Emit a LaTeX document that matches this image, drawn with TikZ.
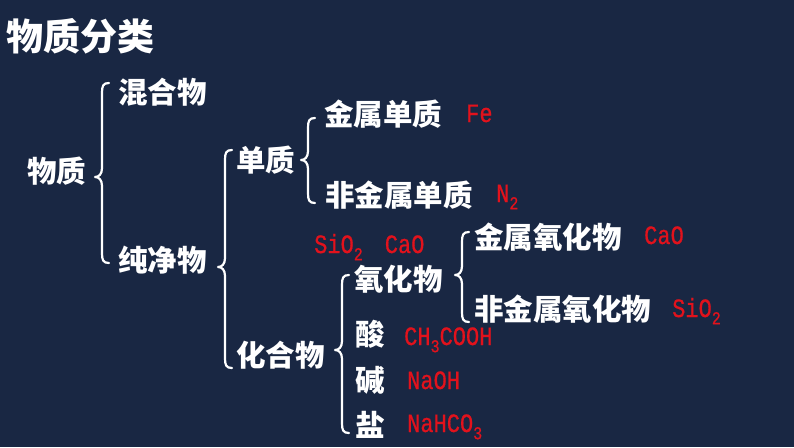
\documentclass[tikz,border=0pt]{standalone}
\usepackage{graphicx}
\usepackage{fontspec}
\newfontfamily\cjk{Noto Sans CJK SC}
\newfontfamily\formfont[FakeBold=0.8]{Liberation Mono}
\definecolor{bgnavy}{RGB}{25,39,67}
\definecolor{formred}{RGB}{226,18,28}
\newcommand{\chsub}[1]{\raisebox{-6pt}{\fontsize{15}{15}\selectfont #1}}
\newcommand{\frm}[1]{\scalebox{1}[1.2]{\formfont\fontsize{22}{22}\selectfont #1}}
\newcommand{\mybrace}[4]{%
  \draw[bracestyle] (#1+7,#2) .. controls (#1+1,#2) and (#1,#2+3) .. (#1,#2+10)
    -- (#1,#3-9) .. controls (#1,#3-3) and (#1-3,#3) .. (#1-7,#3)
    .. controls (#1-3,#3) and (#1,#3+3) .. (#1,#3+9)
    -- (#1,#4-10) .. controls (#1,#4-3) and (#1+1,#4) .. (#1+7,#4);}
\tikzset{
  bracestyle/.style={draw=white, line width=2.2pt, line cap=round, line join=round},
  zh/.style={anchor=base west, inner sep=0pt, text=white, font=\cjk\bfseries\fontsize{29.5}{30}\selectfont},
  ttl/.style={anchor=base west, inner sep=0pt, text=white, font=\cjk\bfseries\fontsize{37}{38}\selectfont},
  fm/.style={anchor=base west, inner sep=0pt, text=formred},
}
\begin{document}
\begin{tikzpicture}[x=1pt,y=-1pt]
\fill[bgnavy] (0,0) rectangle (794,447);
\useasboundingbox (0,0) rectangle (794,447);
% title
\node[ttl] (title) at (6,50) {物质分类};
% level texts
\node[zh] (wz) at (27,182) {物质};
\node[zh] (hhw) at (118,103) {混合物};
\node[zh] (cjw) at (118,271) {纯净物};
\node[zh] (dz) at (236,171) {单质};
\node[zh] (jsdz) at (324,125) {金属单质};
\node[zh] (fjsdz) at (325,206) {非金属单质};
\node[zh] (hhw2) at (236,366) {化合物};
\node[zh] (yhw) at (354,290) {氧化物};
\node[zh] (jsyhw) at (474,248) {金属氧化物};
\node[zh] (fjsyhw) at (474,320) {非金属氧化物};
\node[zh] (suan) at (355,345) {酸};
\node[zh] (jian) at (355,391) {碱};
\node[zh] (yan) at (355,436) {盐};
% formulas
\node[fm] (fe) at (466,122) {\frm{Fe}};
\node[fm] (n2) at (496,202) {\frm{N\chsub{2}}};
\node[fm] (ex) at (314,253) {\frm{SiO\chsub{2}\hspace{22pt}CaO}};
\node[fm] (cao) at (644,244) {\frm{CaO}};
\node[fm] (sio2) at (672,317) {\frm{SiO\chsub{2}}};
\node[fm] (ch3) at (404,345) {\frm{CH\chsub{3}COOH}};
\node[fm] (naoh) at (407,389) {\frm{NaOH}};
\node[fm] (nahco3) at (407,432) {\frm{NaHCO\chsub{3}}};
% braces
\mybrace{102}{83}{177}{263}
\mybrace{225}{150}{267}{368}
\mybrace{308}{118}{160}{203}
\mybrace{342}{275}{350}{433}
\mybrace{462}{232}{275}{322}
\end{tikzpicture}
\end{document}
